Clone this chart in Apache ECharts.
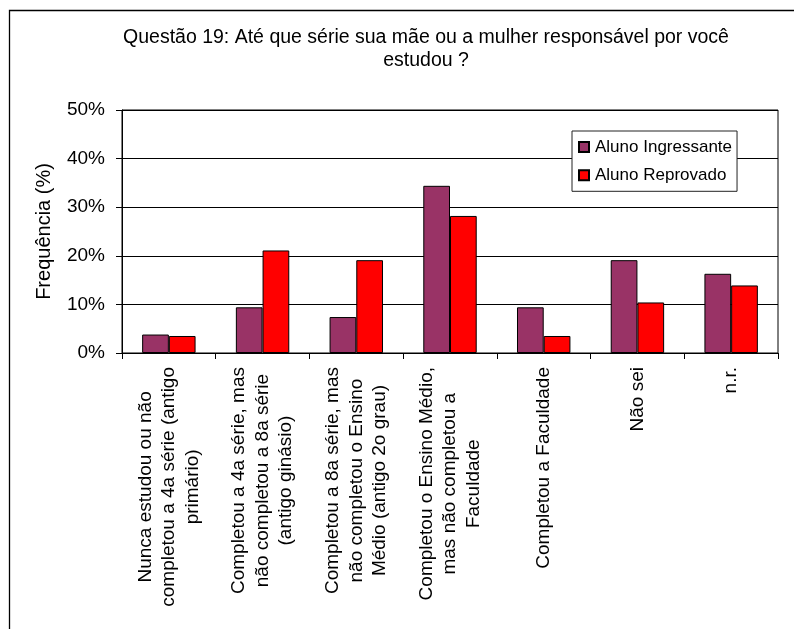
<!DOCTYPE html>
<html>
<head>
<meta charset="utf-8">
<script src="https://cdn.jsdelivr.net/npm/echarts@6/dist/echarts.min.js"></script>
<style>
html,body{margin:0;padding:0;background:#fff;}
#chart{width:794px;height:629px;}
</style>
</head>
<body>
<div id="chart"></div>
<script>
var titleText = 'Questão 19: Até que série sua mãe ou a mulher responsável por você\nestudou ?';
var categories = [
  'Nunca estudou ou não\ncompletou a 4a série (antigo\nprimário)',
  'Completou a 4a série, mas\nnão completou a 8a série\n(antigo ginásio)',
  'Completou a 8a série, mas\nnão completou o Ensino\nMédio (antigo 2o grau)',
  'Completou o Ensino Médio,\nmas não completou a\nFaculdade',
  'Completou a Faculdade',
  'Não sei',
  'n.r.'
];
var seriesNames = ['Aluno Ingressante', 'Aluno Reprovado'];
var ingressante = [3.8, 9.4, 7.4, 34.4, 9.4, 19.1, 16.3];
var reprovado = [3.5, 21.1, 19.1, 28.2, 3.5, 10.4, 13.9];
var yTicks = [0, 10, 20, 30, 40, 50];

var FONT = "'Liberation Sans', Arial, sans-serif";
var chart = echarts.init(document.getElementById('chart'), null, {renderer: 'canvas'});
chart.setOption({
  backgroundColor: '#fff',
  animation: false,
  textStyle: {fontFamily: FONT, color: '#000'},
  title: {
    text: titleText,
    left: 426, top: 26, padding: 0,
    textAlign: 'center',
    textStyle: {fontFamily: FONT, fontSize: 19.5, fontWeight: 'normal', color: '#000', lineHeight: 23}
  },
  graphic: [{
    type: 'rect', silent: true, z: -1,
    shape: {x: 9.5, y: 10.5, width: 1000, height: 1000},
    style: {fill: 'none', stroke: '#000', lineWidth: 1.3}
  }],
  legend: {
    orient: 'vertical',
    left: 572, top: 131,
    padding: [7.5, 5, 7.5, 6],
    itemGap: 11.3,
    itemWidth: 10, itemHeight: 10,
    icon: 'rect',
    backgroundColor: '#fff',
    borderColor: '#222', borderWidth: 1,
    textStyle: {fontFamily: FONT, fontSize: 17, color: '#000', padding: [0, 0, 0, 1]},
    data: seriesNames
  },
  grid: {
    left: 122, right: 16, top: 110, bottom: 276,
    show: true, borderColor: '#000', borderWidth: 1, backgroundColor: 'transparent'
  },
  xAxis: {
    type: 'category',
    data: categories,
    axisLine: {lineStyle: {color: '#000', width: 1}},
    axisTick: {show: true, length: 6, lineStyle: {color: '#000'}},
    axisLabel: {
      rotate: 90, interval: 0, margin: 14,
      fontFamily: FONT, fontSize: 19, color: '#000',
      formatter: function (v) { return v.split('\n').map(function (l) { return '{c|' + l + '}'; }).join('\n'); },
      rich: {c: {align: 'center', fontFamily: FONT, fontSize: 19, color: '#000', lineHeight: 23.5}}
    }
  },
  yAxis: {
    type: 'value',
    min: yTicks[0], max: yTicks[yTicks.length - 1], interval: 10,
    name: 'Frequência (%)',
    nameLocation: 'middle', nameGap: 68, nameRotate: 90,
    nameTextStyle: {fontFamily: FONT, fontSize: 20, color: '#000'},
    axisLine: {show: true, lineStyle: {color: '#000', width: 1}},
    axisTick: {show: true, length: 6, lineStyle: {color: '#000'}},
    axisLabel: {formatter: '{value}%', margin: 17, fontFamily: FONT, fontSize: 19, color: '#000'},
    splitLine: {show: true, lineStyle: {color: '#000', width: 1}}
  },
  series: [
    {
      name: seriesNames[0], type: 'bar', data: ingressante,
      barGap: '0%', barCategoryGap: '43%',
      itemStyle: {color: '#993366', borderColor: '#000', borderWidth: 1}
    },
    {
      name: seriesNames[1], type: 'bar', data: reprovado,
      barGap: '0%', barCategoryGap: '43%',
      itemStyle: {color: '#ff0000', borderColor: '#000', borderWidth: 1}
    }
  ]
});
</script>
</body>
</html>
